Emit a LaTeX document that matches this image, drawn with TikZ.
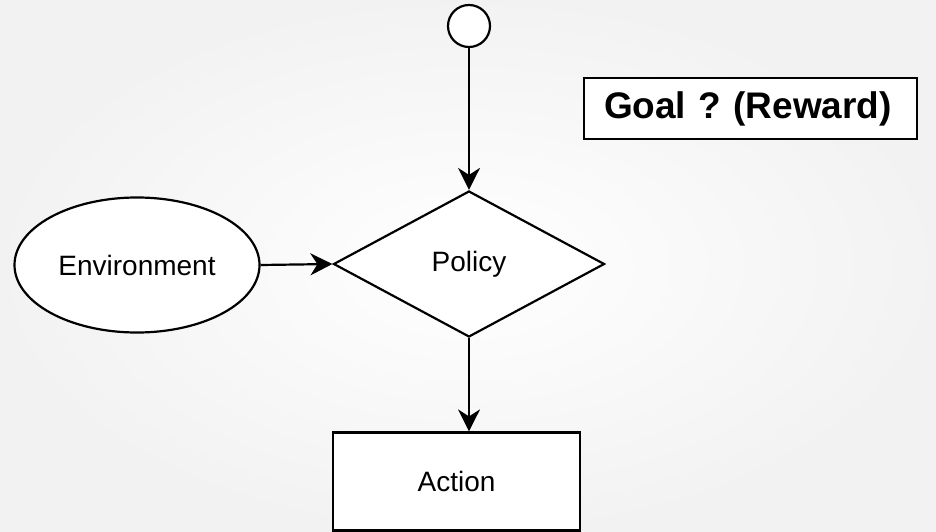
\documentclass[tikz,border=0pt]{standalone}
\usepackage{fontspec}
\setmainfont{Liberation Sans}
\usetikzlibrary{shapes.geometric,arrows.meta}
\frenchspacing
\begin{document}
\begin{tikzpicture}[x=1pt,y=-1pt,
  shape line/.style={draw=black,line width=2.2pt,fill=white,inner sep=0pt},
  flow/.style={line width=2.2pt,-{Stealth[length=22pt,width=22pt,inset=7pt]}},
  label text/.style={font=\fontsize{28}{32}\selectfont}]
  % page and soft background
  \useasboundingbox (0,0) rectangle (936,532);
  \shade[inner color=white,outer color=gray!10] (0,0) rectangle (936,532);

  % nodes
  \node[shape line,circle,minimum size=42pt] (start) at (469,26) {};
  \node[shape line,diamond,minimum width=271pt,minimum height=146pt,label text] (policy) at (469,264) {Policy};
  \node[shape line,ellipse,minimum width=245pt,minimum height=135pt,label text] (env) at (137,265) {Environment};
  \node[shape line,rectangle,minimum width=247pt,minimum height=98pt,label text] (action) at (456.5,481.5) {Action};
  \node[shape line,rectangle,minimum width=333pt,minimum height=61pt,
        text width=293pt,align=left,inner xsep=20pt,
        font=\bfseries\fontsize{37}{40}\selectfont] (goal) at (750.5,108.5) {Goal ? (Reward)};

  % connectors
  \draw[flow] (start) -- (policy.north);
  \draw[flow] (env.east) -- (policy.west);
  \draw[flow] (policy.south) -- (policy.south |- action.north);
\end{tikzpicture}
\end{document}
